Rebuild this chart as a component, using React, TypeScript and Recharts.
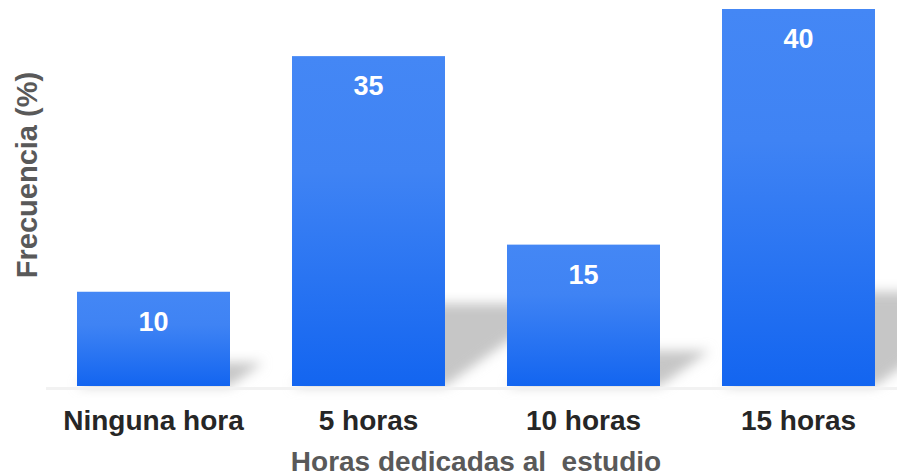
import React from 'react';
import { BarChart, Bar, XAxis, YAxis, LabelList } from 'recharts';

const categories = ['Ninguna hora', '5 horas', '10 horas', '15 horas'];
const frecuencia = [10, 35, 15, 40];
const yDomain = [0, 40];
const xTitle = 'Horas dedicadas al  estudio';
const yTitle = 'Frecuencia (%)';

const data = categories.map((c, i) => ({ name: c, value: frecuencia[i] }));

const FONT = '"Liberation Sans", Arial, Helvetica, sans-serif';

const ShadowBar = (props: any) => {
  const { x, y, width, height } = props;
  if (!height || height <= 0) return null;
  const bottom = y + height;
  const hs = height * 0.25;
  const dx = height * 0.35;
  const pts = `${x},${bottom} ${x + width},${bottom} ${x + width + dx},${bottom - hs} ${x + dx},${bottom - hs}`;
  return (
    <g>
      <polygon points={pts} fill="#c6c6c6" filter="url(#shadowBlur)" />
      <rect x={x} y={y} width={width} height={height} fill="url(#barGrad)" />
    </g>
  );
};

const Tick = (props: any) => {
  const { x, y, payload } = props;
  return (
    <text x={x} y={y} dy={44} textAnchor="middle" fill="#262626" fontFamily={FONT} fontWeight="bold" fontSize={28}>
      {payload.value}
    </text>
  );
};

const ValueLabel = (props: any) => {
  const { x, y, width, value } = props;
  return (
    <text x={x + width / 2} y={y + 30} textAnchor="middle" dominantBaseline="central" fill="#ffffff" fontFamily={FONT} fontWeight="bold" fontSize={27}>
      {value}
    </text>
  );
};

const XTitle = (props: any) => {
  const vb = props.viewBox || {};
  return (
    <text x={vb.x + vb.width / 2} y={vb.y + 85} textAnchor="middle" fill="#595959" fontFamily={FONT} fontWeight="bold" fontSize={28} style={{ whiteSpace: 'pre' }}>
      {xTitle}
    </text>
  );
};

const YTitle = (props: any) => {
  const vb = props.viewBox || {};
  const cx = vb.x + 27;
  const cy = 175;
  return (
    <text x={cx} y={cy} transform={`rotate(-90 ${cx} ${cy})`} textAnchor="middle" dominantBaseline="central" fill="#595959" fontFamily={FONT} fontWeight="bold" fontSize={29}>
      {yTitle}
    </text>
  );
};

export default function App() {
  return (
    <div style={{ position: 'absolute', left: 0, top: 0, width: 897, height: 474, overflow: 'hidden', background: '#fff' }}>
      <BarChart width={906} height={474} data={data} margin={{ top: 9, right: 0, left: 0, bottom: 28 }} barSize={153}>
        <defs>
          <linearGradient id="barGrad" x1="0" y1="0" x2="0" y2="1">
            <stop offset="0%" stopColor="#4487F5" />
            <stop offset="35%" stopColor="#3F83F4" />
            <stop offset="100%" stopColor="#1365F0" />
          </linearGradient>
          <filter id="shadowBlur" x="-50%" y="-50%" width="200%" height="200%">
            <feGaussianBlur stdDeviation="6" />
          </filter>
        </defs>
        <XAxis
          dataKey="name"
          height={60}
          tickLine={false}
          tickSize={0}
          tickMargin={0}
          axisLine={{ stroke: '#f2f2f2', strokeWidth: 3, transform: 'translate(0, 2.5)' }}
          tick={<Tick />}
          interval={0}
          label={<XTitle />}
        />
        <YAxis width={46} domain={yDomain} tick={false} tickLine={false} axisLine={false} label={<YTitle />} />
        <Bar dataKey="value" isAnimationActive={false} shape={<ShadowBar />}>
          <LabelList dataKey="value" content={<ValueLabel />} />
        </Bar>
      </BarChart>
    </div>
  );
}
